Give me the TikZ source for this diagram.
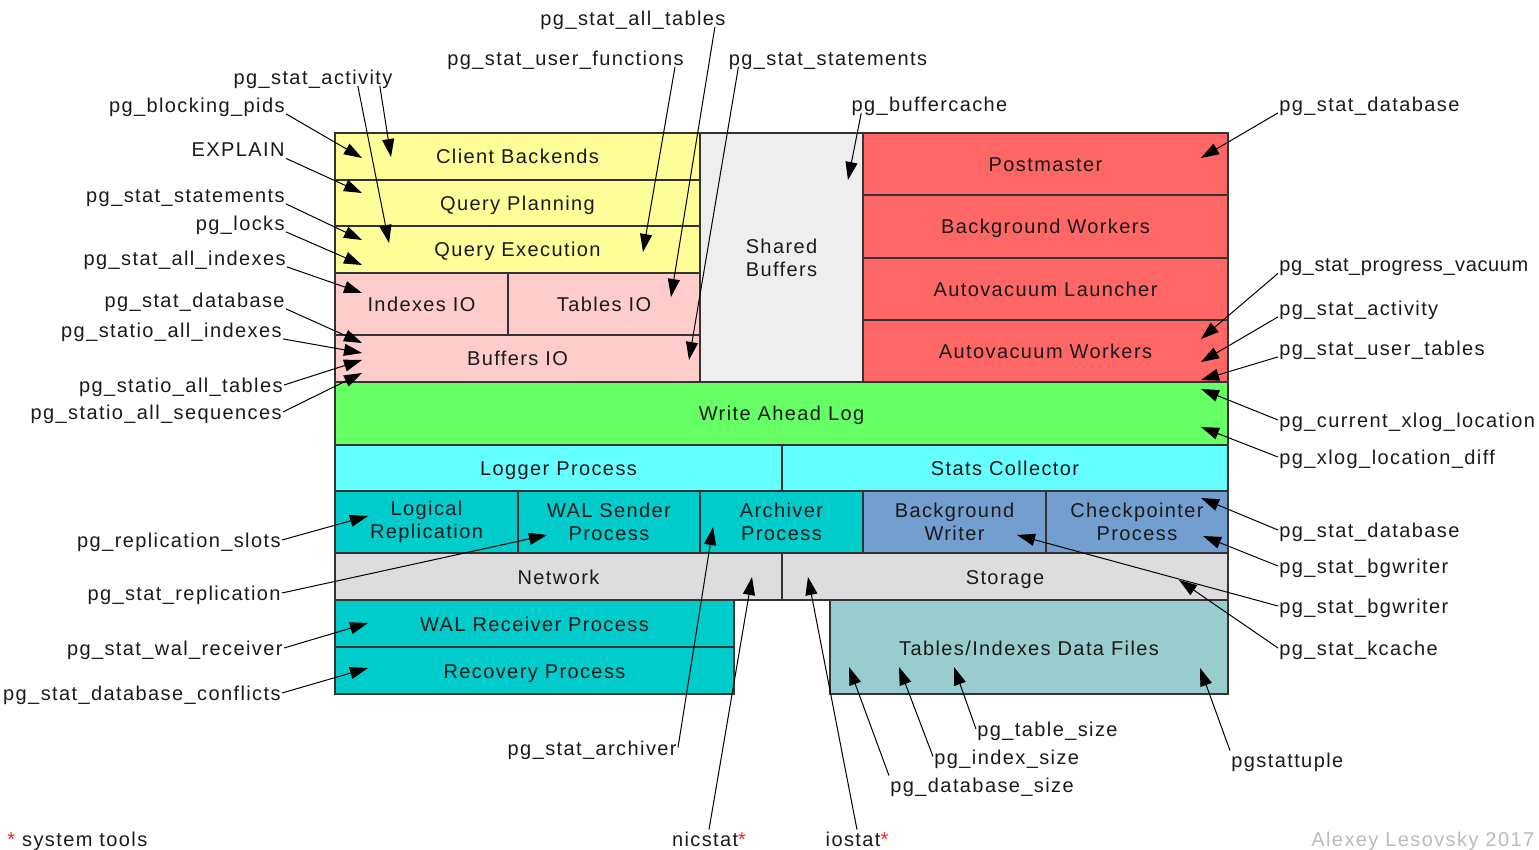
\documentclass[tikz,border=0pt]{standalone}
\usepackage{fontspec}
\setmainfont{Liberation Sans}[LetterSpace=7]
\usetikzlibrary{arrows.meta}
\definecolor{MapInk}{HTML}{1A1A1A}
\definecolor{MapEdge}{HTML}{333333}
\definecolor{MapBackend}{HTML}{FFFF99}
\definecolor{MapIO}{HTML}{FFCCCC}
\definecolor{MapShared}{HTML}{EEEEEE}
\definecolor{MapServer}{HTML}{FF6666}
\definecolor{MapWal}{HTML}{66FF66}
\definecolor{MapAux}{HTML}{66FFFF}
\definecolor{MapRepl}{HTML}{00CCCC}
\definecolor{MapWriter}{HTML}{729FCF}
\definecolor{MapLink}{HTML}{DDDDDD}
\definecolor{MapFiles}{HTML}{99CCCC}
\definecolor{MapStar}{HTML}{FF2222}
\definecolor{MapSign}{HTML}{BBBBBB}
\tikzset{
  every node/.style={font=\fontsize{10}{11.5}\selectfont, text=MapInk, text height=8pt, text depth=0.5pt},
  twoline/.style={align=center, text height={}, text depth={}},
  block/.style={draw=MapEdge, line width=0.75pt},
  tag/.style={inner sep=0.5pt, text height=7.5pt, text depth=0pt},
  probe/.style={-{Triangle[length=9pt,width=6pt]}, draw=black, line width=0.5pt},
}

\begin{document}
\begin{tikzpicture}[x=0.5pt,y=-0.5pt]
  \useasboundingbox (0,0) rectangle (1539,850);
  % Backend stack
  \draw[block, fill=MapBackend] (335,133) rectangle (700,180);
  \draw[block, fill=MapBackend] (335,180) rectangle (700,226);
  \draw[block, fill=MapBackend] (335,226) rectangle (700,273);
  \node (client) at (517.5,156.5) {Client Backends};
  \node (planning) at (517.5,203) {Query Planning};
  \node (execution) at (517.5,249.5) {Query Execution};
  \draw[block, fill=MapIO] (335,273) rectangle (508,335);
  \draw[block, fill=MapIO] (508,273) rectangle (700,335);
  \draw[block, fill=MapIO] (335,335) rectangle (700,382);
  \node (idxio) at (421.5,304) {Indexes IO};
  \node (tabio) at (604,304) {Tables IO};
  \node (bufio) at (517.5,358.5) {Buffers IO};
  % Shared memory and server processes
  \draw[block, fill=MapShared] (700,133) rectangle (863,382);
  \node[twoline] (shared) at (781.5,257.5) {Shared\\Buffers};
  \draw[block, fill=MapServer] (863,133) rectangle (1228,195);
  \draw[block, fill=MapServer] (863,195) rectangle (1228,258);
  \draw[block, fill=MapServer] (863,258) rectangle (1228,320);
  \draw[block, fill=MapServer] (863,320) rectangle (1228,382);
  \node (postmaster) at (1045.5,164) {Postmaster};
  \node (bgworkers) at (1045.5,226.5) {Background Workers};
  \node (avlauncher) at (1045.5,289) {Autovacuum Launcher};
  \node (avworkers) at (1045.5,351) {Autovacuum Workers};
  % Full width layers
  \draw[block, fill=MapWal] (335,382) rectangle (1228,445);
  \node (wal) at (781.5,413.5) {Write Ahead Log};
  \draw[block, fill=MapAux] (335,445) rectangle (782,491);
  \draw[block, fill=MapAux] (782,445) rectangle (1228,491);
  \node (logger) at (558.5,468) {Logger Process};
  \node (stats) at (1005,468) {Stats Collector};
  \draw[block, fill=MapRepl] (335,491) rectangle (518,553);
  \draw[block, fill=MapRepl] (518,491) rectangle (700,553);
  \draw[block, fill=MapRepl] (700,491) rectangle (863,553);
  \draw[block, fill=MapWriter] (863,491) rectangle (1046,553);
  \draw[block, fill=MapWriter] (1046,491) rectangle (1228,553);
  \node[twoline] (logical) at (426.5,522) {Logical\\Replication};
  \node[twoline] (sender) at (609,522) {WAL Sender\\Process};
  \node[twoline] (archiver) at (781.5,522) {Archiver\\Process};
  \node[twoline] (bgwriter) at (954.5,522) {Background\\Writer};
  \node[twoline] (checkpointer) at (1137,522) {Checkpointer\\Process};
  \draw[block, fill=MapLink] (335,553) rectangle (782,600);
  \draw[block, fill=MapLink] (782,553) rectangle (1228,600);
  \node (network) at (558.5,577) {Network};
  \node (storage) at (1005,577) {Storage};
  % Standby side and data files
  \draw[block, fill=MapRepl] (335,600) rectangle (734,647);
  \draw[block, fill=MapRepl] (335,647) rectangle (734,694);
  \node (receiver) at (534.5,624) {WAL Receiver Process};
  \node (recovery) at (534.5,671) {Recovery Process};
  \draw[block, fill=MapFiles] (830,600) rectangle (1228,694);
  \node (datafiles) at (1029,648) {Tables/Indexes Data Files};

  % Arrow targets
  \coordinate (a-blocking) at (362,158);
  \coordinate (a-explain) at (362,193);
  \coordinate (a-statements) at (362,240);
  \coordinate (a-locks) at (362,265);
  \coordinate (a-allidx) at (362,293);
  \coordinate (a-database) at (362,343);
  \coordinate (a-sioidx) at (362,353);
  \coordinate (a-siotab) at (362,360);
  \coordinate (a-sioseq) at (362,373);
  \coordinate (a-activity1) at (391,157);
  \coordinate (a-activity2) at (389,243);
  \coordinate (a-alltab) at (671,297);
  \coordinate (a-userfn) at (643,252);
  \coordinate (a-statements2) at (689,360);
  \coordinate (a-bufcache) at (848,180);
  \coordinate (a-slots) at (368,516);
  \coordinate (a-replication) at (547,535);
  \coordinate (a-walrecv) at (368,623);
  \coordinate (a-conflicts) at (368,668);
  \coordinate (a-archiver) at (713,527);
  \coordinate (a-nicstat) at (752,577);
  \coordinate (a-iostat) at (808,577);
  \coordinate (a-dbsize) at (849,667);
  \coordinate (a-idxsize) at (899,667);
  \coordinate (a-tabsize) at (954,667);
  \coordinate (a-tuple) at (1200,668);
  \coordinate (a-kcache) at (1179,580);
  \coordinate (a-bgwriter2) at (1017,535);
  \coordinate (a-bgwriter1) at (1203,536);
  \coordinate (a-database2) at (1201,498);
  \coordinate (a-xlogdiff) at (1201,427);
  \coordinate (a-xlogloc) at (1201,389);
  \coordinate (a-usertab) at (1201,380);
  \coordinate (a-activity3) at (1201,362);
  \coordinate (a-progress) at (1201,339);
  \coordinate (a-database3) at (1201,158);

  % Left labels
  \node[tag, anchor=base east] (l-blocking) at (286,112.5) {pg\_blocking\_pids};
  \node[tag, anchor=base east] (l-explain) at (286,157) {EXPLAIN};
  \node[tag, anchor=base east] (l-statements) at (286,202.5) {pg\_stat\_statements};
  \node[tag, anchor=base east] (l-locks) at (286,230.5) {pg\_locks};
  \node[tag, anchor=base east] (l-allidx) at (287,265.5) {pg\_stat\_all\_indexes};
  \node[tag, anchor=base east] (l-database) at (286,307.5) {pg\_stat\_database};
  \node[tag, anchor=base east] (l-sioidx) at (283,337.5) {pg\_statio\_all\_indexes};
  \node[tag, anchor=base east] (l-siotab) at (284,392.5) {pg\_statio\_all\_tables};
  \node[tag, anchor=base east] (l-sioseq) at (283,419.5) {pg\_statio\_all\_sequences};
  \node[tag, anchor=base east] (l-slots) at (282,547.5) {pg\_replication\_slots};
  \node[tag, anchor=base east] (l-replication) at (282,600.5) {pg\_stat\_replication};
  \node[tag, anchor=base east] (l-walrecv) at (284,655.5) {pg\_stat\_wal\_receiver};
  \node[tag, anchor=base east] (l-conflicts) at (282,700.5) {pg\_stat\_database\_conflicts};
  \draw[probe] (l-blocking.south east) -- (a-blocking);
  \draw[probe] (l-explain.south east) -- (a-explain);
  \draw[probe] (l-statements.south east) -- (a-statements);
  \draw[probe] (l-locks.south east) -- (a-locks);
  \draw[probe] (l-allidx.south east) -- (a-allidx);
  \draw[probe] (l-database.south east) -- (a-database);
  \draw[probe] (l-sioidx.south east) -- (a-sioidx);
  \draw[probe] (l-siotab.east) -- (a-siotab);
  \draw[probe] (l-sioseq.east) -- (a-sioseq);
  \draw[probe] (l-slots.east) -- (a-slots);
  \draw[probe] (l-replication.east) -- (a-replication);
  \draw[probe] (l-walrecv.east) -- (a-walrecv);
  \draw[probe] (l-conflicts.east) -- (a-conflicts);

  % Top labels
  \node[tag, anchor=base] (l-activity) at (313,84.5) {pg\_stat\_activity};
  \node[tag, anchor=base] (l-alltab) at (633,25.5) {pg\_stat\_all\_tables};
  \node[tag, anchor=base] (l-userfn) at (565.5,65.5) {pg\_stat\_user\_functions};
  \node[tag, anchor=base] (l-statements2) at (828,65.5) {pg\_stat\_statements};
  \node[tag, anchor=base] (l-bufcache) at (929.5,111.5) {pg\_buffercache};
  \draw[probe] ([xshift=-18pt]l-activity.south east) -- (a-activity2);
  \draw[probe] ([xshift=-7pt]l-activity.south east) -- (a-activity1);
  \draw[probe] ([xshift=-6pt]l-alltab.south east) -- (a-alltab);
  \draw[probe] ([xshift=-5pt]l-userfn.south east) -- (a-userfn);
  \draw[probe] ([xshift=5.5pt]l-statements2.south west) -- (a-statements2);
  \draw[probe] ([xshift=5.5pt]l-bufcache.south west) -- (a-bufcache);

  % Right labels
  \node[tag, anchor=base west] (r-database) at (1278,111.5) {pg\_stat\_database};
  \node[tag, anchor=base west, font=\fontsize{10}{11.5}\selectfont\addfontfeature{LetterSpace=3}] (r-progress) at (1278,272) {pg\_stat\_progress\_vacuum};
  \node[tag, anchor=base west] (r-activity) at (1278,315.5) {pg\_stat\_activity};
  \node[tag, anchor=base west] (r-usertab) at (1278,355.5) {pg\_stat\_user\_tables};
  \node[tag, anchor=base west] (r-xlogloc) at (1278,427.5) {pg\_current\_xlog\_location};
  \node[tag, anchor=base west] (r-xlogdiff) at (1278,464.5) {pg\_xlog\_location\_diff};
  \node[tag, anchor=base west] (r-database2) at (1278,537.5) {pg\_stat\_database};
  \node[tag, anchor=base west] (r-bgwriter1) at (1278,573.5) {pg\_stat\_bgwriter};
  \node[tag, anchor=base west] (r-bgwriter2) at (1278,613.5) {pg\_stat\_bgwriter};
  \node[tag, anchor=base west] (r-kcache) at (1278,655.5) {pg\_stat\_kcache};
  \draw[probe] (r-database.south west) -- (a-database3);
  \draw[probe] (r-progress.south west) -- (a-progress);
  \draw[probe] (r-activity.south west) -- (a-activity3);
  \draw[probe] (r-usertab.south west) -- (a-usertab);
  \draw[probe] (r-xlogloc.west) -- (a-xlogloc);
  \draw[probe] (r-xlogdiff.west) -- (a-xlogdiff);
  \draw[probe] (r-database2.west) -- (a-database2);
  \draw[probe] (r-bgwriter1.west) -- (a-bgwriter1);
  \draw[probe] (r-bgwriter2.west) -- (a-bgwriter2);
  \draw[probe] (r-kcache.west) -- (a-kcache);

  % Bottom labels
  \node[tag, anchor=base east] (b-archiver) at (678,755) {pg\_stat\_archiver};
  \node[tag, anchor=base] (b-nicstat) at (709,846) {nicstat\textcolor{MapStar}{*}};
  \node[tag, anchor=base] (b-iostat) at (857,846) {iostat\textcolor{MapStar}{*}};
  \node[tag, anchor=base west] (b-tabsize) at (976,736.5) {pg\_table\_size};
  \node[tag, anchor=base west] (b-idxsize) at (933,764) {pg\_index\_size};
  \node[tag, anchor=base west] (b-dbsize) at (889,792) {pg\_database\_size};
  \node[tag, anchor=base west] (b-tuple) at (1230,767) {pgstattuple};
  \draw[probe] (b-archiver.east) -- (a-archiver);
  \draw[probe] (b-nicstat.north) -- (a-nicstat);
  \draw[probe] (b-iostat.north) -- (a-iostat);
  \draw[probe] (b-tabsize.west) -- (a-tabsize);
  \draw[probe] (b-idxsize.west) -- (a-idxsize);
  \draw[probe] (b-dbsize.north west) -- (a-dbsize);
  \draw[probe] (b-tuple.north west) -- (a-tuple);

  % Footer
  \node[anchor=base west, inner sep=0pt] (legend) at (7,846) {\textcolor{MapStar}{*} system tools};
  \node[anchor=base west, inner sep=0pt, text=MapSign] (credit) at (1311,846) {Alexey Lesovsky 2017};
\end{tikzpicture}
\end{document}
